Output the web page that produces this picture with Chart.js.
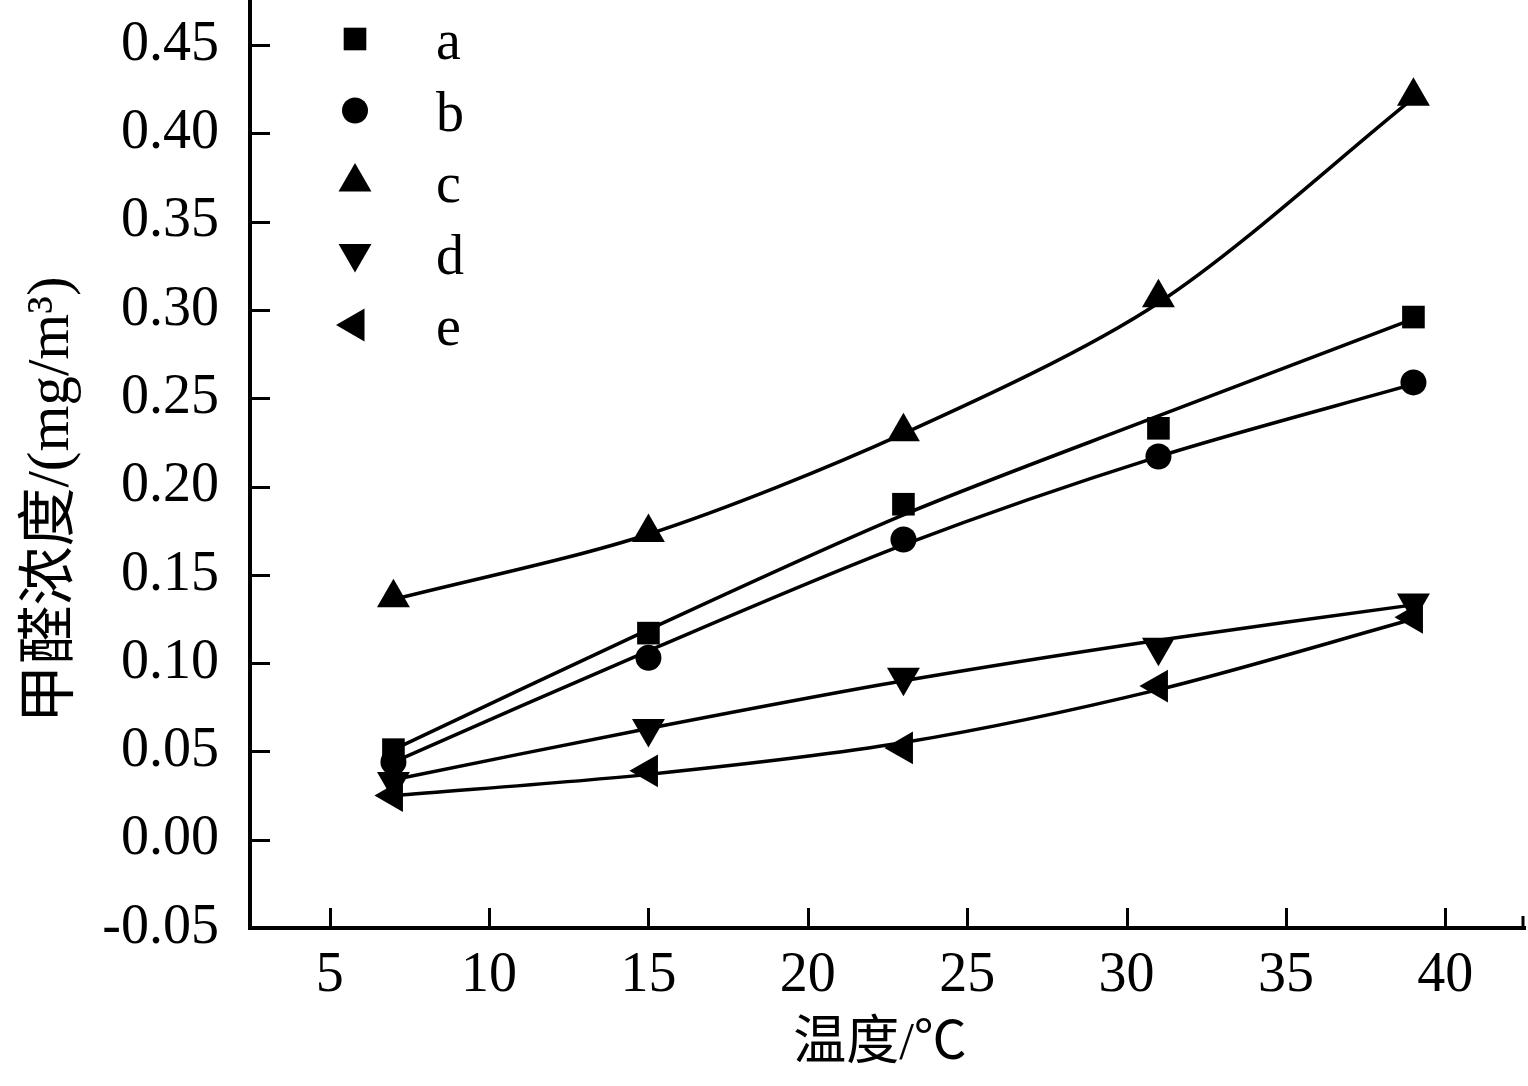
<!DOCTYPE html>
<html>
<head>
<meta charset="utf-8">
<script src="https://cdn.jsdelivr.net/npm/chart.js@4.4.1/dist/chart.umd.min.js"></script>
<style>
  html, body { margin: 0; padding: 0; background: #fff; }
  #wrap { width: 1528px; height: 1086px; }
</style>
</head>
<body>
<div id="wrap"><canvas id="hchoChart"></canvas></div>
<script>
// measured points (temperature, formaldehyde mg/m3)
const temps = [7, 15, 23, 31, 39];
const seriesA = [0.051, 0.117, 0.190, 0.233, 0.296];
const seriesB = [0.044, 0.103, 0.170, 0.217, 0.259];
const seriesC = [0.137, 0.174, 0.231, 0.307, 0.421];
const seriesD = [0.033, 0.063, 0.092, 0.109, 0.134];
const seriesE = [0.025, 0.039, 0.052, 0.087, 0.126];

// fitted curves at the same temperatures
const fitA = [0.051, 0.119, 0.184, 0.240, 0.295];
const fitB = [0.044, 0.107, 0.167, 0.217, 0.258];
const fitC = [0.136, 0.173, 0.230, 0.304, 0.420];
const fitD = [0.034, 0.063, 0.090, 0.113, 0.133];
const fitE = [0.025, 0.037, 0.055, 0.085, 0.125];

const labels = ["a", "b", "c", "d", "e"];
const xTicks = [5, 10, 15, 20, 25, 30, 35, 40];
const yTicks = [-0.05, 0.00, 0.05, 0.10, 0.15, 0.20, 0.25, 0.30, 0.35, 0.40, 0.45];

const serif = '"Liberation Serif", "Times New Roman", "Noto Sans CJK SC", serif';

function pts(ys) {
  return temps.map((t, i) => ({ x: t, y: ys[i] }));
}

const markerStyles = [
  { pointStyle: "rect", pointRadius: 16, pointRotation: 0 },
  { pointStyle: "circle", pointRadius: 13, pointRotation: 0 },
  { pointStyle: "triangle", pointRadius: 19, pointRotation: 0 },
  { pointStyle: "triangle", pointRadius: 19, pointRotation: 180 },
  { pointStyle: "triangle", pointRadius: 19, pointRotation: -90 },
];

const allSeries = [seriesA, seriesB, seriesC, seriesD, seriesE];
const allFits = [fitA, fitB, fitC, fitD, fitE];

const datasets = [];
allSeries.forEach((s, i) => {
  datasets.push({
    label: labels[i],
    data: pts(s),
    showLine: false,
    backgroundColor: "#000",
    borderColor: "#000",
    borderWidth: 0,
    pointBorderWidth: 0,
    pointStyle: markerStyles[i].pointStyle,
    pointRadius: markerStyles[i].pointRadius,
    pointRotation: markerStyles[i].pointRotation,
    order: 0,
    isMarker: true,
  });
});
allFits.forEach((f, i) => {
  datasets.push({
    label: labels[i] + "-fit",
    data: pts(f),
    showLine: true,
    borderColor: "#000",
    borderWidth: 3.5,
    pointRadius: 0,
    tension: 0.3,
    order: 1,
  });
});

// scale paddings off, so the plot box fills the canvas like the figure
function noPad(scale) {
  scale.paddingTop = 0;
  scale.paddingBottom = 0;
  scale.paddingLeft = 0;
  scale.paddingRight = 0;
}

// inward ticks, legend and axis titles
const decorations = {
  id: "decorations",
  afterDraw(chart) {
    const ctx = chart.ctx;
    const area = chart.chartArea;
    const xs = chart.scales.x;
    const ys = chart.scales.y;
    ctx.save();
    ctx.strokeStyle = "#000";
    ctx.lineWidth = 3;
    ctx.beginPath();
    xTicks.forEach((v) => {
      const px = Math.round(xs.getPixelForValue(v)) + 0.5;
      ctx.moveTo(px, area.bottom);
      ctx.lineTo(px, area.bottom - 20);
    });
    yTicks.forEach((v) => {
      const py = Math.round(ys.getPixelForValue(v)) + 0.5;
      ctx.moveTo(area.left, py);
      ctx.lineTo(area.left + 20, py);
    });
    // small end stub at the right of the x axis
    ctx.moveTo(area.right - 2, area.bottom);
    ctx.lineTo(area.right - 2, area.bottom - 12);
    ctx.stroke();

    // legend
    ctx.fillStyle = "#000";
    ctx.font = "56px " + serif;
    ctx.textAlign = "left";
    ctx.textBaseline = "alphabetic";
    const markers = chart.data.datasets.filter((d) => d.isMarker);
    markers.forEach((ds, i) => {
      const y = area.top + 38 + i * 71.5;
      Chart.helpers.drawPoint(ctx, {
        pointStyle: ds.pointStyle,
        radius: ds.pointRadius,
        rotation: ds.pointRotation,
        borderWidth: 0,
      }, area.left + 105, y);
      ctx.fillText(ds.label, area.left + 186, y + 20);
    });

    // axis titles
    ctx.textAlign = "center";
    ctx.textBaseline = "middle";
    ctx.font = "53px " + serif;
    ctx.fillText("温度/℃", 880, 1045);
    ctx.translate(52, 500);
    ctx.rotate(-Math.PI / 2);
    ctx.font = "59px " + serif;
    ctx.fillText("甲醛浓度/(mg/m³)", 0, 0);
    ctx.restore();
  },
};

const ctx = document.getElementById("hchoChart").getContext("2d");
const hchoChart = new Chart(ctx, {
  type: "scatter",
  data: { datasets: datasets },
  options: {
    responsive: true,
    maintainAspectRatio: false,
    animation: false,
    layout: { autoPadding: false, padding: { top: 1, right: 3, left: 0, bottom: 0 } },
    plugins: {
      legend: { display: false },
      tooltip: { enabled: false },
    },
    scales: {
      x: {
        type: "linear",
        min: 2.5,
        max: 42.5,
        afterBuildTicks: (axis) => {
          axis.ticks = xTicks.map((v) => ({ value: v }));
        },
        afterFit: (scale) => {
          scale.height = 158;
          noPad(scale);
        },
        grid: { drawOnChartArea: false, drawTicks: false },
        border: { color: "#000", width: 4 },
        ticks: {
          color: "#000",
          padding: 15,
          maxRotation: 0,
          font: { family: serif, size: 56 },
        },
      },
      y: {
        type: "linear",
        min: -0.05,
        max: 0.475,
        afterBuildTicks: (axis) => {
          axis.ticks = yTicks.map((v) => ({ value: v }));
        },
        afterFit: (scale) => {
          scale.width = 250;
          noPad(scale);
        },
        grid: { drawOnChartArea: false, drawTicks: false },
        border: { color: "#000", width: 4 },
        ticks: {
          color: "#000",
          padding: 31,
          font: { family: serif, size: 56 },
          callback: (v) => Number(v).toFixed(2),
        },
      },
    },
  },
  plugins: [decorations],
});
</script>
</body>
</html>
